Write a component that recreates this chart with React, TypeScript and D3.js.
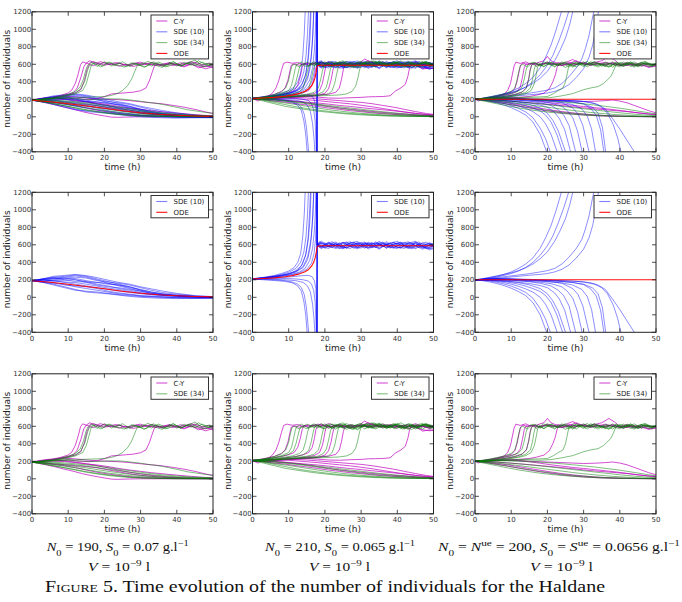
import React from 'react';
import * as d3 from 'd3';

// Axis ticks and legend labels
const TIME_TICKS = [0, 10, 20, 30, 40, 50];
const COUNT_TICKS = [-400, -200, 0, 200, 400, 600, 800, 1000, 1200];
const SERIES_LABELS: Record<string, string> = { cy: 'C-Y', sde10: 'SDE (10)', sde34: 'SDE (34)', ode: 'ODE' };

// Trajectories, each one a flat list [t0, n0, t1, n1, ...] (t in hours, n = number of individuals)

// ---- N0 = 190, S0 = 0.07 ----
const ode190 = [0, 190, 5, 172, 10, 150, 15, 124, 20, 97, 25, 70, 30, 46, 35, 29, 40, 17, 45, 9, 50, 5];

const cy190: number[][] = [
  [0, 190, 2, 208, 4, 220, 6, 228, 8, 246, 10, 272, 11, 305, 12, 385, 12.8, 495, 13.4, 595, 14, 628, 15.5, 605, 17, 632, 18.5, 600, 20, 622, 22, 595, 24, 615, 26, 588, 28, 610, 30, 625, 32, 592, 34, 605, 36, 580, 38, 612, 40, 595, 42, 570, 44, 602, 46, 575, 48, 548, 50, 575],
  [0, 190, 2, 198, 4, 212, 6, 225, 8, 238, 10, 255, 11.5, 280, 12.5, 330, 13.5, 450, 14.3, 570, 15, 615, 16, 640, 17.5, 612, 19, 630, 21, 598, 23, 620, 25, 602, 27, 585, 29, 612, 31, 598, 33, 620, 35, 595, 37, 605, 39, 585, 41, 618, 43, 600, 45, 625, 47, 596, 49, 610, 50, 598],
  [0, 190, 2, 205, 4, 215, 6, 222, 8, 235, 10, 250, 12, 272, 13.5, 310, 14.5, 420, 15.2, 545, 15.8, 598, 17, 585, 18.5, 610, 20, 590, 22, 605, 24, 580, 26, 600, 28, 575, 30, 598, 32, 610, 34, 585, 36, 600, 38, 620, 40, 590, 42, 605, 44, 630, 46, 595, 48, 572, 50, 590],
  [0, 190, 2, 200, 4, 205, 6, 215, 8, 210, 10, 218, 12, 205, 14, 200, 16, 195, 18, 208, 20, 230, 22, 262, 24, 268, 26, 275, 28, 282, 30, 298, 31.5, 330, 32.5, 420, 33.2, 510, 33.8, 578, 34.5, 605, 36, 588, 38, 612, 40, 595, 42, 580, 44, 605, 46, 560, 48, 585, 50, 560],
  [0, 190, 2, 175, 4, 158, 6, 140, 8, 120, 10, 100, 12, 80, 14, 58, 16, 40, 18, 24, 20, 10, 22, -4, 24, -6, 27, -2, 30, 0, 35, 0, 50, 0],
  [0, 190, 3, 180, 6, 165, 9, 150, 12, 128, 15, 100, 18, 75, 21, 55, 24, 38, 27, 25, 30, 15, 34, 8, 38, 4, 44, 2, 50, 0],
  [0, 190, 3, 200, 6, 212, 9, 205, 12, 190, 15, 172, 18, 150, 21, 125, 24, 98, 27, 75, 30, 55, 34, 35, 38, 20, 42, 10, 46, 5, 50, 2],
  [0, 190, 3, 205, 6, 222, 9, 235, 12, 228, 15, 215, 18, 205, 21, 200, 24, 195, 27, 185, 30, 172, 33, 160, 36, 148, 39, 130, 42, 110, 45, 85, 48, 55, 50, 38],
  [0, 190, 3, 195, 6, 200, 9, 198, 12, 185, 15, 170, 18, 158, 21, 140, 24, 118, 27, 100, 30, 85, 33, 70, 36, 58, 40, 42, 44, 28, 47, 18, 50, 12],
  [0, 190, 3, 182, 6, 170, 9, 162, 12, 150, 15, 140, 18, 125, 21, 102, 24, 80, 27, 58, 30, 40, 33, 28, 36, 18, 40, 10, 45, 5, 50, 2],
];

const sde34_190: number[][] = [
  [0, 190, 2, 200, 4, 212, 6, 222, 8, 238, 10, 258, 12, 290, 13.3, 340, 14.2, 430, 14.9, 540, 15.4, 590, 16.5, 625, 18, 575, 20, 630, 22, 580, 24, 620, 26, 570, 28, 615, 30, 585, 32, 635, 34, 590, 36, 565, 38, 620, 40, 580, 42, 625, 44, 590, 46, 640, 48, 595, 50, 575],
  [0, 190, 2, 196, 4, 208, 6, 215, 8, 228, 10, 248, 12, 275, 13.5, 320, 14.6, 410, 15.3, 525, 15.8, 585, 17, 615, 19, 570, 21, 625, 23, 585, 25, 630, 27, 575, 29, 610, 31, 565, 33, 620, 35, 595, 37, 570, 39, 628, 41, 580, 43, 612, 45, 648, 47, 590, 49, 615, 50, 600],
  [0, 190, 2, 194, 4, 205, 6, 212, 8, 222, 10, 240, 12, 262, 14, 300, 15, 380, 15.8, 500, 16.3, 580, 17.5, 622, 19.5, 578, 21.5, 625, 23.5, 590, 25.5, 568, 27.5, 618, 29.5, 590, 31.5, 572, 33.5, 628, 35.5, 600, 37.5, 575, 39.5, 615, 41.5, 585, 43.5, 625, 45.5, 595, 47.5, 570, 50, 605],
  [0, 190, 2, 198, 4, 205, 6, 210, 8, 215, 10, 220, 12, 218, 14, 222, 16, 225, 18, 228, 20, 232, 22, 245, 23.5, 265, 25, 300, 26.5, 360, 27.5, 430, 28.3, 510, 28.9, 570, 29.5, 600, 31, 618, 33, 580, 35, 625, 37, 588, 39, 632, 41, 578, 43, 615, 45, 585, 47, 625, 49, 590, 50, 600],
  [0, 190, 3, 172, 6, 150, 9, 128, 12, 105, 15, 82, 18, 62, 21, 45, 24, 32, 27, 20, 30, 12, 34, 6, 38, 3, 44, 1, 50, 0],
  [0, 190, 3, 178, 6, 162, 9, 145, 12, 125, 15, 105, 18, 85, 21, 66, 24, 50, 27, 36, 30, 25, 34, 15, 38, 8, 44, 4, 50, 2],
  [0, 190, 3, 184, 6, 172, 9, 158, 12, 142, 15, 125, 18, 105, 21, 86, 24, 68, 27, 52, 30, 38, 34, 25, 38, 15, 42, 9, 46, 5, 50, 3],
  [0, 190, 3, 188, 6, 180, 9, 170, 12, 160, 15, 145, 18, 128, 21, 110, 24, 92, 27, 75, 30, 60, 33, 46, 36, 34, 40, 22, 44, 14, 50, 7],
  [0, 190, 3, 198, 6, 205, 9, 210, 12, 205, 15, 200, 18, 198, 21, 205, 24, 205, 26, 198, 28, 188, 30, 178, 32, 165, 34, 155, 36, 142, 38, 125, 40, 108, 43, 80, 46, 62, 48, 50, 50, 40],
  [0, 190, 3, 170, 6, 148, 9, 125, 12, 100, 15, 75, 18, 55, 21, 38, 24, 25, 27, 15, 30, 9, 35, 4, 40, 1, 50, 0],
  [0, 190, 3, 192, 6, 190, 9, 182, 12, 172, 15, 160, 18, 145, 21, 128, 24, 110, 27, 92, 30, 75, 33, 60, 36, 46, 40, 32, 44, 20, 50, 10],
];

const sde10_190: number[][] = [
  [0, 190, 3, 210, 6, 230, 9, 240, 12, 255, 15, 240, 18, 210, 21, 180, 24, 150, 27, 120, 30, 90, 33, 60, 36, 40, 40, 25, 45, 10, 50, 0],
  [0, 190, 3, 200, 6, 220, 9, 230, 12, 245, 15, 230, 18, 200, 21, 160, 24, 130, 27, 100, 30, 70, 33, 45, 36, 30, 40, 15, 45, 5, 50, -5],
  [0, 190, 3, 180, 6, 200, 9, 210, 12, 215, 15, 190, 18, 170, 21, 150, 24, 140, 27, 120, 30, 80, 33, 50, 36, 30, 40, 20, 45, 10, 50, 5],
  [0, 190, 3, 170, 6, 160, 9, 150, 12, 120, 15, 100, 18, 80, 21, 60, 24, 40, 27, 30, 30, 15, 35, 5, 40, -5, 45, -10, 50, -5],
  [0, 190, 3, 175, 6, 150, 9, 120, 12, 90, 15, 60, 18, 50, 21, 40, 24, 25, 27, 10, 30, 0, 35, -10, 40, -15, 45, -10, 50, -10],
  [0, 190, 3, 200, 6, 190, 9, 170, 12, 150, 15, 130, 18, 110, 21, 90, 24, 70, 27, 55, 30, 40, 35, 25, 40, 12, 45, 5, 50, 0],
  [0, 190, 3, 210, 6, 225, 9, 200, 12, 180, 15, 175, 18, 170, 21, 160, 24, 140, 27, 110, 30, 85, 33, 60, 36, 40, 40, 20, 45, 8, 50, 0],
  [0, 190, 3, 185, 6, 190, 9, 195, 12, 200, 15, 180, 18, 150, 21, 130, 24, 100, 27, 80, 30, 55, 33, 35, 37, 20, 42, 10, 47, 3, 50, 0],
  [0, 190, 3, 180, 6, 170, 9, 140, 12, 130, 15, 120, 18, 100, 21, 70, 24, 50, 27, 35, 30, 20, 35, 10, 40, 0, 45, -5, 50, -5],
  [0, 190, 3, 195, 6, 210, 9, 220, 12, 230, 15, 220, 18, 190, 21, 175, 24, 160, 27, 140, 30, 110, 33, 80, 36, 55, 40, 35, 45, 15, 50, 5],
  [0, 190, 3, 170, 6, 140, 9, 110, 12, 80, 15, 70, 18, 60, 21, 45, 24, 30, 27, 20, 30, 10, 35, 0, 40, -5, 45, -8, 50, -10],
  [0, 190, 3, 205, 6, 215, 9, 220, 12, 200, 15, 170, 18, 140, 21, 120, 24, 110, 27, 90, 30, 70, 33, 45, 37, 30, 42, 15, 47, 5, 50, 0],
  [0, 190, 3, 198, 6, 185, 9, 175, 12, 168, 15, 150, 18, 128, 21, 105, 24, 88, 27, 66, 30, 48, 33, 32, 37, 18, 42, 6, 47, 0, 50, -3],
  [0, 190, 3, 212, 6, 240, 9, 250, 12, 262, 15, 248, 18, 225, 21, 196, 24, 170, 27, 150, 30, 120, 33, 96, 36, 72, 40, 45, 45, 20, 50, 8],
];

// ---- N0 = 210, S0 = 0.065 ----
const ode210 = [0, 210, 3, 215, 6, 222, 9, 235, 11, 248, 13, 268, 14.5, 292, 15.5, 318, 16.3, 355, 16.9, 400, 17.3, 450, 17.6, 510, 17.8, 565, 18, 585, 19, 590, 50, 590];

const cy210: number[][] = [
  [0, 210, 1.5, 180, 3, 215, 4.5, 240, 5.5, 270, 6.5, 330, 7.3, 420, 8, 530, 8.6, 610, 9.5, 625, 11, 612, 12.5, 620, 14, 598, 15.5, 615, 17, 600, 19, 625, 21, 590, 23, 610, 25, 600, 27, 580, 29, 612, 31, 600, 33, 630, 35, 605, 37, 590, 39, 615, 41, 598, 43, 620, 45, 585, 47, 560, 49, 548, 50, 565],
  [0, 210, 2, 222, 4, 238, 6, 255, 8, 290, 9, 330, 9.8, 420, 10.3, 520, 10.7, 590, 11.5, 605, 13, 590, 14.5, 612, 16, 598, 18, 625, 20, 605, 22, 590, 24, 620, 26, 600, 28, 585, 30, 610, 32, 640, 34, 605, 36, 590, 38, 612, 40, 600, 42, 580, 44, 605, 46, 590, 48, 620, 50, 600],
  [0, 210, 2, 215, 4, 228, 6, 240, 8, 255, 10, 275, 11.5, 300, 12.5, 360, 13.2, 460, 13.7, 560, 14.2, 605, 15.5, 590, 17, 615, 19, 598, 21, 630, 23, 605, 25, 592, 27, 618, 29, 600, 31, 660, 33, 615, 35, 598, 37, 605, 39, 588, 41, 612, 43, 598, 45, 630, 47, 600, 49, 575, 50, 590],
  [0, 210, 3, 215, 6, 222, 9, 240, 12, 255, 14, 275, 15.5, 300, 16.5, 360, 17.1, 460, 17.5, 560, 18, 598, 19.5, 610, 21, 592, 23, 612, 25, 600, 27, 580, 29, 608, 31, 595, 33, 620, 35, 600, 37, 585, 39, 610, 41, 598, 43, 575, 45, 600, 47, 545, 49, 560, 50, 548],
  [0, 210, 3, 205, 6, 215, 9, 225, 12, 235, 15, 250, 17, 265, 18.5, 300, 19.3, 380, 19.8, 480, 20.2, 570, 20.7, 605, 22, 595, 24, 615, 26, 600, 28, 590, 30, 620, 32, 602, 34, 595, 36, 625, 38, 600, 40, 580, 42, 608, 44, 595, 46, 610, 48, 585, 50, 600],
  [0, 210, 3, 198, 6, 208, 9, 215, 12, 225, 15, 232, 18, 245, 20, 270, 21, 320, 21.7, 420, 22.2, 530, 22.6, 590, 23.5, 602, 25, 590, 27, 612, 29, 598, 31, 605, 33, 590, 35, 615, 37, 600, 39, 592, 41, 606, 43, 598, 45, 612, 47, 600, 49, 585, 50, 595],
  [0, 210, 3, 212, 6, 220, 9, 226, 12, 232, 15, 240, 18, 248, 21, 258, 23, 280, 24, 330, 24.6, 430, 25.1, 540, 25.5, 595, 26.5, 612, 28, 598, 30, 610, 32, 590, 34, 605, 36, 598, 38, 620, 40, 600, 42, 590, 44, 612, 46, 598, 48, 605, 50, 590],
  [0, 210, 3, 205, 6, 212, 9, 220, 12, 228, 15, 232, 18, 225, 21, 215, 24, 212, 27, 218, 30, 222, 32, 228, 34, 230, 36, 232, 38, 240, 39.5, 295, 41, 330, 42.2, 370, 42.9, 460, 43.4, 560, 43.8, 600, 45, 585, 46.5, 610, 48, 590, 50, 605],
  [0, 210, 3, 200, 6, 195, 9, 188, 12, 178, 15, 168, 18, 158, 21, 145, 24, 130, 27, 118, 30, 105, 33, 92, 36, 80, 39, 68, 42, 55, 45, 40, 48, 28, 50, 22],
  [0, 210, 3, 215, 6, 218, 9, 222, 12, 220, 15, 215, 18, 205, 21, 195, 24, 185, 27, 175, 30, 165, 33, 150, 36, 130, 39, 110, 42, 85, 45, 60, 48, 38, 50, 28],
  [0, 210, 3, 205, 6, 198, 9, 190, 12, 175, 15, 158, 18, 140, 21, 120, 24, 102, 27, 88, 30, 75, 33, 62, 36, 50, 39, 40, 42, 32, 45, 22, 48, 15, 50, 12],
  [0, 210, 3, 208, 6, 212, 9, 215, 12, 205, 15, 195, 18, 185, 21, 172, 24, 160, 27, 148, 30, 132, 33, 115, 36, 95, 39, 75, 42, 55, 45, 38, 48, 25, 50, 20],
  [0, 210, 3, 195, 6, 180, 9, 168, 12, 150, 15, 135, 18, 118, 21, 100, 24, 85, 27, 70, 30, 58, 33, 45, 36, 35, 40, 25, 45, 15, 50, 8],
];

const sde34_210: number[][] = [
  [0, 210, 2, 220, 4, 235, 6, 255, 8, 285, 9.2, 330, 10, 420, 10.5, 520, 10.9, 585, 11.5, 600, 13, 570, 15, 625, 17, 585, 19, 630, 21, 575, 23, 612, 25, 640, 27, 585, 29, 620, 31, 570, 33, 608, 35, 635, 37, 580, 39, 615, 41, 575, 43, 630, 45, 588, 47, 620, 49, 570, 50, 590],
  [0, 210, 2, 218, 4, 230, 6, 245, 8, 265, 10, 300, 10.8, 360, 11.3, 450, 11.8, 550, 12.2, 598, 13.5, 625, 15.5, 578, 17.5, 615, 19.5, 570, 21.5, 630, 23.5, 582, 25.5, 612, 27.5, 565, 29.5, 625, 31.5, 590, 33.5, 640, 35.5, 585, 37.5, 618, 39.5, 572, 41.5, 610, 43.5, 628, 45.5, 580, 47.5, 622, 50, 585],
  [0, 210, 2, 214, 4, 226, 6, 240, 8, 256, 10, 280, 11.3, 320, 12, 400, 12.6, 500, 13, 570, 13.5, 600, 15, 572, 17, 628, 19, 588, 21, 615, 23, 568, 25, 625, 27, 595, 29, 560, 31, 618, 33, 585, 35, 632, 37, 575, 39, 605, 41, 640, 43, 590, 45, 612, 47, 568, 49, 620, 50, 600],
  [0, 210, 3, 220, 6, 232, 9, 248, 11, 262, 13, 290, 14, 330, 14.7, 430, 15.2, 530, 15.6, 590, 16.5, 622, 18, 580, 20, 628, 22, 575, 24, 615, 26, 565, 28, 608, 30, 635, 32, 580, 34, 612, 36, 628, 38, 578, 40, 618, 42, 570, 44, 625, 46, 595, 48, 630, 50, 585],
  [0, 210, 3, 216, 6, 226, 9, 238, 12, 255, 14, 275, 15.5, 320, 16.2, 420, 16.7, 520, 17.1, 585, 18, 615, 20, 572, 22, 625, 24, 590, 26, 632, 28, 578, 30, 610, 32, 628, 34, 570, 36, 612, 38, 585, 40, 630, 42, 592, 44, 565, 46, 610, 48, 628, 50, 590],
  [0, 210, 3, 212, 6, 220, 9, 232, 12, 245, 15, 258, 17, 280, 18.2, 330, 18.8, 420, 19.3, 520, 19.7, 585, 20.5, 620, 22, 575, 24, 628, 26, 590, 28, 565, 30, 615, 32, 588, 34, 632, 36, 578, 38, 610, 40, 625, 42, 580, 44, 612, 46, 570, 48, 618, 50, 596],
  [0, 210, 3, 208, 6, 215, 9, 225, 12, 236, 15, 246, 18, 258, 19.5, 285, 20.4, 340, 21, 440, 21.5, 540, 21.9, 592, 23, 625, 25, 580, 27, 618, 29, 570, 31, 612, 33, 640, 35, 585, 37, 622, 39, 578, 41, 606, 43, 565, 45, 615, 47, 632, 49, 590, 50, 605],
  [0, 210, 3, 205, 6, 212, 9, 222, 12, 230, 15, 238, 18, 245, 21, 262, 22, 300, 22.7, 380, 23.2, 480, 23.7, 570, 24.2, 600, 25.5, 572, 27.5, 622, 29.5, 585, 31.5, 630, 33.5, 575, 35.5, 612, 37.5, 590, 39.5, 628, 41.5, 568, 43.5, 612, 45.5, 585, 47.5, 625, 50, 578],
  [0, 210, 3, 212, 6, 218, 9, 226, 12, 232, 15, 236, 18, 240, 21, 244, 24, 250, 26, 262, 27.5, 290, 28.5, 350, 29.1, 440, 29.6, 540, 30, 590, 31, 615, 33, 575, 35, 622, 37, 590, 39, 632, 41, 580, 43, 610, 45, 570, 47, 622, 49, 588, 50, 600],
  [0, 210, 3, 180, 6, 150, 9, 120, 12, 100, 15, 82, 18, 65, 21, 52, 24, 40, 27, 30, 30, 22, 34, 14, 38, 8, 44, 4, 50, 2],
  [0, 210, 3, 195, 6, 175, 9, 158, 12, 140, 15, 120, 18, 100, 21, 82, 24, 66, 27, 52, 30, 40, 34, 28, 38, 18, 42, 12, 46, 7, 50, 4],
  [0, 210, 3, 200, 6, 190, 9, 178, 12, 165, 15, 150, 18, 132, 21, 115, 24, 98, 27, 82, 30, 66, 34, 48, 38, 34, 42, 22, 46, 14, 50, 9],
  [0, 210, 3, 190, 6, 165, 9, 140, 12, 115, 15, 95, 18, 78, 21, 62, 24, 48, 27, 38, 30, 30, 34, 20, 38, 12, 44, 6, 50, 3],
  [0, 210, 3, 205, 6, 198, 9, 185, 12, 172, 15, 160, 18, 145, 21, 130, 24, 115, 27, 100, 30, 86, 33, 72, 36, 58, 40, 42, 44, 28, 48, 16, 50, 12],
];

// These runs blow up near t = 17.8 h and are then restarted on the upper branch
const sde10_210: number[][] = [
  [0, 210, 2, 220, 4, 235, 6, 250, 8, 272, 10, 300, 11.5, 340, 12.5, 400, 13.3, 500, 13.9, 700, 14.3, 950, 14.6, 1250, 15, 1800, 17.75, 4000, 17.85, 600, 19, 565, 21, 622, 23, 588, 25, 630, 27, 575, 29, 615, 31, 560, 33, 620, 35, 586, 37, 635, 39, 590, 41, 565, 43, 622, 45, 588, 47, 550, 49, 600, 50, 570],
  [0, 210, 2, 215, 4, 230, 6, 242, 8, 262, 10, 285, 12, 330, 13.3, 400, 14.2, 520, 14.8, 700, 15.2, 950, 15.5, 1250, 16, 1800, 17.75, 4000, 17.85, 590, 19, 625, 21, 580, 23, 560, 25, 615, 27, 635, 29, 578, 31, 620, 33, 568, 35, 610, 37, 570, 39, 625, 41, 595, 43, 570, 45, 630, 47, 580, 49, 622, 50, 598],
  [0, 210, 2, 225, 4, 228, 6, 238, 8, 252, 10, 270, 12, 305, 13.5, 360, 14.6, 470, 15.4, 650, 15.9, 900, 16.2, 1250, 16.6, 1800, 17.75, 4000, 17.85, 605, 18.5, 570, 20, 608, 22, 635, 24, 580, 26, 565, 28, 622, 30, 586, 32, 630, 34, 570, 36, 615, 38, 562, 40, 610, 42, 628, 44, 575, 46, 615, 48, 565, 50, 550],
  [0, 210, 2, 212, 4, 222, 6, 232, 8, 245, 10, 262, 12, 290, 14, 340, 15.2, 430, 16, 580, 16.5, 820, 16.8, 1100, 17.1, 1500, 17.75, 4000, 17.85, 585, 18.5, 620, 20, 570, 22, 616, 24, 560, 26, 608, 28, 630, 30, 580, 32, 565, 34, 622, 36, 578, 38, 615, 40, 640, 42, 588, 44, 565, 46, 610, 48, 630, 50, 590],
  [0, 210, 2, 218, 4, 226, 6, 236, 8, 250, 10, 268, 12, 295, 14, 352, 15.3, 470, 16.2, 680, 16.7, 950, 17, 1250, 17.3, 1800, 17.75, 4000, 17.85, 610, 19, 642, 21, 580, 23, 618, 25, 575, 27, 558, 29, 610, 31, 632, 33, 578, 35, 565, 37, 620, 39, 570, 41, 610, 43, 635, 45, 590, 47, 570, 49, 555, 50, 585],
  [0, 210, 3, 220, 6, 232, 9, 248, 11, 262, 13, 290, 14.5, 330, 15.8, 420, 16.6, 560, 17.1, 760, 17.4, 1000, 17.6, 1300, 17.75, 4000, 17.85, 575, 18.5, 610, 20, 622, 22, 568, 24, 615, 26, 632, 28, 575, 30, 563, 32, 615, 34, 578, 36, 625, 38, 570, 40, 558, 42, 615, 44, 622, 46, 565, 48, 608, 50, 590],
  [0, 210, 3, 216, 6, 228, 9, 244, 11, 258, 13, 280, 15, 320, 16.3, 390, 17, 500, 17.4, 660, 17.6, 850, 17.75, 4000, 17.85, 598, 19, 555, 21, 608, 23, 632, 25, 580, 27, 620, 29, 565, 31, 610, 33, 625, 35, 558, 37, 608, 39, 630, 41, 570, 43, 610, 45, 565, 47, 622, 49, 580, 50, 610],
  [0, 210, 3, 222, 6, 240, 9, 260, 11, 280, 12.5, 310, 13.8, 380, 14.8, 500, 15.4, 700, 15.8, 1000, 16.1, 1300, 16.5, 1800, 17.75, 4000, 17.85, 620, 19, 580, 21, 558, 23, 610, 25, 568, 27, 622, 29, 638, 31, 578, 33, 565, 35, 615, 37, 560, 39, 608, 41, 625, 43, 560, 45, 615, 47, 575, 49, 540, 50, 570],
  [0, 210, 3, 205, 6, 200, 9, 190, 11, 175, 12.5, 150, 13.5, 110, 14.3, 30, 14.9, -120, 15.3, -300, 15.6, -450, 16, -700, 17.75, -4000, 17.85, 600, 18.5, 635, 20, 585, 22, 575, 24, 622, 26, 560, 28, 610, 30, 625, 32, 572, 34, 635, 36, 580, 38, 622, 40, 570, 42, 560, 44, 616, 46, 632, 48, 578, 50, 622],
  [0, 210, 3, 208, 6, 205, 9, 200, 12, 190, 14, 170, 15.2, 130, 16, 60, 16.6, -80, 17, -250, 17.3, -450, 17.75, -4000, 17.85, 590, 19, 578, 21, 630, 23, 565, 25, 555, 27, 610, 29, 572, 31, 622, 33, 580, 35, 640, 37, 585, 39, 565, 41, 608, 43, 580, 45, 555, 47, 600, 49, 620, 50, 595],
  [0, 210, 3, 215, 6, 218, 9, 215, 12, 210, 14, 200, 15.5, 185, 16.3, 150, 16.9, 80, 17.3, -50, 17.55, -300, 17.7, -600, 17.75, -4000, 17.85, 612, 19, 570, 21, 615, 23, 572, 25, 625, 27, 582, 29, 555, 31, 600, 33, 615, 35, 622, 37, 565, 39, 610, 41, 630, 43, 575, 45, 620, 47, 560, 49, 605, 50, 600],
  [0, 210, 3, 212, 6, 220, 9, 228, 12, 240, 14, 248, 15.5, 250, 16.5, 235, 17.1, 190, 17.5, 100, 17.7, -100, 17.75, -4000, 17.85, 580, 18.5, 605, 20, 560, 22, 610, 24, 570, 26, 618, 28, 560, 30, 615, 32, 552, 34, 608, 36, 630, 38, 580, 40, 618, 42, 570, 44, 555, 46, 610, 48, 560, 50, 588],
  [0, 210, 3, 200, 6, 192, 9, 182, 11, 165, 12.5, 130, 13.5, 70, 14.2, -50, 14.7, -200, 15.1, -400, 15.5, -700, 17.75, -4000, 17.85, 602, 19, 628, 21, 576, 23, 614, 25, 560, 27, 582, 29, 625, 31, 585, 33, 600, 35, 550, 37, 610, 39, 575, 41, 565, 43, 618, 45, 640, 47, 585, 49, 568, 50, 596],
];

// ---- N0 = Nue = 200, S0 = Sue = 0.0656 ----
const ode200 = [0, 200, 50, 200];

const cy200: number[][] = [
  [0, 200, 1, 180, 2, 205, 4, 215, 6, 232, 8, 260, 9, 300, 9.8, 380, 10.3, 480, 10.8, 580, 11.3, 625, 12.5, 610, 14, 628, 15.5, 600, 17, 615, 19, 640, 20, 690, 21, 640, 23, 605, 25, 620, 27, 655, 29, 610, 31, 598, 33, 620, 35, 640, 37, 690, 38.5, 650, 40, 600, 42, 585, 44, 610, 46, 590, 48, 570, 50, 585],
  [0, 200, 2, 210, 4, 222, 6, 238, 8, 255, 10, 280, 11, 320, 11.6, 400, 12.1, 500, 12.6, 590, 13.2, 615, 14.5, 598, 16, 612, 18, 590, 20, 620, 22, 600, 24, 585, 26, 610, 28, 640, 30, 605, 32, 590, 34, 615, 36, 600, 38, 620, 40, 590, 42, 605, 44, 580, 46, 600, 48, 565, 50, 580],
  [0, 200, 2, 206, 4, 218, 6, 230, 8, 245, 10, 262, 11.5, 285, 12.5, 340, 13.1, 450, 13.6, 560, 14, 600, 15.5, 610, 17, 590, 19, 612, 21, 598, 23, 620, 25, 602, 27, 590, 29, 615, 31, 600, 33, 625, 35, 595, 37, 610, 39, 600, 41, 580, 43, 605, 45, 590, 47, 612, 49, 595, 50, 600],
  [0, 200, 3, 210, 6, 222, 9, 238, 11, 252, 13, 280, 14.2, 330, 14.8, 430, 15.2, 530, 15.6, 590, 16.5, 612, 18, 596, 20, 618, 22, 600, 24, 585, 26, 612, 28, 600, 30, 625, 32, 598, 34, 606, 36, 588, 38, 612, 40, 600, 42, 620, 44, 595, 46, 580, 48, 605, 50, 592],
  [0, 200, 3, 196, 6, 205, 9, 215, 12, 222, 15, 232, 17, 248, 19, 270, 20.5, 320, 21.5, 400, 22.2, 480, 22.7, 570, 23.2, 605, 24.5, 595, 26, 620, 28, 600, 30, 612, 32, 590, 34, 605, 36, 625, 38, 600, 40, 588, 42, 610, 44, 595, 46, 615, 48, 590, 50, 600],
  [0, 200, 3, 205, 6, 210, 9, 212, 12, 205, 15, 200, 18, 195, 21, 190, 24, 185, 27, 180, 30, 175, 33, 178, 36, 185, 38, 192, 40, 180, 42, 160, 44, 130, 46, 100, 48, 70, 50, 45],
  [0, 200, 3, 198, 6, 190, 9, 182, 12, 172, 15, 162, 18, 150, 21, 140, 24, 128, 27, 115, 30, 102, 33, 90, 36, 80, 39, 70, 42, 60, 45, 45, 48, 32, 50, 25],
  [0, 200, 3, 190, 6, 175, 9, 160, 12, 140, 15, 118, 18, 98, 21, 78, 24, 60, 27, 45, 30, 32, 33, 22, 36, 14, 40, 8, 45, 4, 50, 2],
  [0, 200, 3, 208, 6, 215, 9, 218, 12, 210, 15, 195, 18, 178, 21, 160, 24, 145, 27, 130, 30, 118, 33, 105, 36, 92, 39, 78, 42, 62, 45, 46, 48, 32, 50, 25],
  [0, 200, 3, 185, 6, 165, 9, 145, 12, 122, 15, 100, 18, 80, 21, 62, 24, 45, 27, 32, 30, 22, 34, 12, 38, 6, 44, 2, 50, 0],
];

const sde34_200: number[][] = [
  [0, 200, 2, 212, 4, 226, 6, 242, 8, 262, 10, 290, 11, 330, 11.6, 420, 12.1, 520, 12.5, 585, 13.2, 600, 14.5, 570, 16, 625, 18, 585, 20, 630, 22, 578, 24, 612, 26, 570, 28, 628, 30, 590, 32, 615, 34, 568, 36, 622, 38, 595, 40, 572, 42, 625, 44, 585, 46, 615, 48, 575, 50, 600],
  [0, 200, 2, 208, 4, 218, 6, 232, 8, 248, 10, 268, 12, 295, 13, 340, 13.6, 430, 14.1, 530, 14.5, 590, 15.5, 620, 17, 575, 19, 628, 21, 588, 23, 612, 25, 565, 27, 620, 29, 595, 31, 632, 33, 580, 35, 608, 37, 570, 39, 625, 41, 588, 43, 615, 45, 572, 47, 628, 49, 590, 50, 605],
  [0, 200, 3, 210, 6, 222, 9, 240, 11, 258, 13, 285, 14.2, 330, 14.9, 440, 15.3, 540, 15.7, 592, 16.5, 625, 18, 578, 20, 612, 22, 570, 24, 628, 26, 592, 28, 618, 30, 575, 32, 630, 34, 585, 36, 610, 38, 568, 40, 622, 42, 590, 44, 628, 46, 580, 48, 612, 50, 595],
  [0, 200, 3, 206, 6, 216, 9, 230, 12, 252, 14, 280, 15.3, 330, 15.9, 430, 16.3, 530, 16.7, 590, 17.5, 618, 19, 572, 21, 625, 23, 590, 25, 615, 27, 568, 29, 622, 31, 588, 33, 632, 35, 578, 37, 612, 39, 590, 41, 625, 43, 575, 45, 610, 47, 632, 49, 585, 50, 600],
  [0, 200, 3, 204, 6, 212, 9, 226, 12, 244, 14, 265, 15.5, 300, 16.4, 380, 16.9, 480, 17.3, 570, 17.8, 600, 19, 575, 21, 622, 23, 585, 25, 630, 27, 578, 29, 612, 31, 570, 33, 625, 35, 595, 37, 568, 39, 618, 41, 585, 43, 628, 45, 575, 47, 612, 49, 590, 50, 608],
  [0, 200, 3, 205, 6, 210, 9, 215, 12, 220, 15, 225, 18, 228, 20, 232, 21.5, 260, 23, 300, 24.3, 330, 25, 400, 25.5, 500, 25.9, 580, 26.5, 600, 28, 570, 30, 625, 32, 590, 34, 615, 36, 572, 38, 628, 40, 585, 42, 612, 44, 568, 46, 622, 48, 592, 50, 610],
  [0, 200, 3, 198, 6, 205, 9, 210, 12, 212, 15, 215, 18, 212, 21, 220, 24, 240, 27, 265, 30, 310, 32, 330, 34, 345, 35.5, 380, 36.5, 420, 37.5, 460, 38.2, 520, 38.8, 580, 39.3, 600, 41, 575, 43, 625, 45, 588, 47, 618, 49, 572, 50, 600],
  [0, 200, 3, 185, 6, 165, 9, 145, 12, 125, 15, 105, 18, 85, 21, 68, 24, 52, 27, 40, 30, 30, 34, 18, 38, 10, 44, 4, 50, 1],
  [0, 200, 3, 192, 6, 180, 9, 166, 12, 152, 15, 136, 18, 120, 21, 104, 24, 88, 27, 72, 30, 58, 34, 42, 38, 28, 42, 18, 46, 10, 50, 6],
  [0, 200, 3, 175, 6, 150, 9, 125, 12, 102, 15, 82, 18, 64, 21, 50, 24, 38, 27, 28, 30, 20, 35, 10, 40, 5, 50, 1],
  [0, 200, 3, 196, 6, 190, 9, 182, 12, 172, 15, 160, 18, 148, 21, 134, 24, 120, 27, 106, 30, 92, 33, 78, 36, 64, 40, 46, 44, 30, 48, 18, 50, 14],
  [0, 200, 3, 205, 6, 208, 9, 205, 12, 200, 15, 196, 18, 190, 21, 182, 24, 172, 27, 160, 30, 148, 33, 135, 36, 120, 39, 104, 42, 86, 45, 66, 48, 46, 50, 34],
];

const sde10_200: number[][] = [
  [0, 200, 2, 210, 4, 225, 6, 240, 8, 262, 10, 290, 12, 330, 14, 380, 16, 450, 18, 560, 19.5, 680, 21, 820, 22.3, 980, 23.3, 1120, 24, 1220, 25, 1400],
  [0, 200, 2, 205, 4, 218, 6, 232, 8, 250, 10, 272, 12, 300, 14, 340, 16, 400, 18, 480, 20, 590, 21.5, 700, 23, 850, 24.5, 1020, 25.5, 1150, 26, 1220, 27, 1400],
  [0, 200, 2, 212, 4, 228, 6, 245, 8, 262, 10, 280, 12, 305, 14, 338, 16, 380, 18, 440, 20, 520, 22, 640, 23.5, 760, 25, 900, 26.2, 1060, 27, 1200, 28, 1380],
  [0, 200, 3, 210, 6, 225, 9, 240, 12, 255, 15, 270, 18, 290, 20, 305, 22, 330, 24, 380, 26, 460, 28, 560, 29.5, 660, 30.5, 780, 31.5, 930, 32.3, 1100, 33, 1240],
  [0, 200, 3, 205, 6, 215, 9, 228, 12, 240, 15, 252, 18, 262, 20, 272, 22, 290, 24, 320, 26, 370, 28, 450, 30, 550, 31.5, 680, 32.5, 820, 33.3, 990, 33.9, 1150, 34.5, 1300],
  [0, 200, 2, 190, 4, 176, 6, 158, 8, 134, 10, 104, 12, 66, 14, 20, 16, -60, 18, -200, 19.8, -400, 21, -600],
  [0, 200, 2, 196, 4, 186, 6, 172, 8, 152, 10, 128, 12, 96, 14, 56, 16, -10, 18, -130, 19.5, -250, 20.8, -400, 22, -600],
  [0, 200, 2, 200, 4, 192, 6, 182, 8, 168, 10, 150, 12, 126, 14, 96, 16, 60, 18, 0, 19.5, -80, 21, -200, 22.7, -400, 24, -620],
  [0, 200, 2, 196, 4, 198, 6, 190, 8, 180, 10, 166, 12, 150, 14, 128, 16, 100, 18, 66, 19.5, 20, 21, -60, 22.6, -200, 24.2, -400, 25.5, -620],
  [0, 200, 3, 204, 6, 196, 9, 184, 12, 168, 15, 142, 18, 100, 20, 40, 21.5, -40, 23, -160, 25, -400, 26, -560],
  [0, 200, 3, 194, 6, 190, 9, 182, 12, 172, 15, 158, 18, 134, 20, 110, 22, 50, 23.3, -20, 24.8, -150, 26.4, -400, 27.5, -600],
  [0, 200, 3, 206, 6, 204, 9, 198, 12, 190, 15, 178, 18, 160, 21, 130, 23, 80, 24.5, 20, 26, -100, 27.8, -400, 29, -620],
  [0, 200, 3, 200, 6, 196, 9, 192, 12, 188, 15, 182, 18, 172, 21, 156, 24, 120, 25.5, 70, 27, -10, 28.3, -160, 29.6, -400, 30.5, -600],
  [0, 200, 3, 205, 6, 210, 9, 208, 12, 200, 15, 195, 18, 188, 21, 178, 24, 160, 27, 100, 28.5, 30, 29.8, -100, 31.5, -400, 32.5, -620],
  [0, 200, 3, 195, 6, 198, 9, 200, 12, 196, 15, 190, 18, 184, 21, 175, 24, 165, 27, 140, 29.5, 90, 31, 10, 32.2, -140, 33.3, -400, 34.3, -650],
  [0, 200, 3, 210, 6, 215, 9, 210, 12, 205, 15, 200, 18, 195, 21, 190, 24, 182, 27, 170, 30, 145, 32, 95, 33.5, 15, 34.7, -150, 35.6, -400, 36.5, -650],
  [0, 200, 3, 202, 6, 205, 9, 202, 12, 200, 15, 198, 18, 195, 21, 188, 24, 180, 27, 168, 30, 150, 32.5, 108, 34, 40, 35.2, -120, 36.1, -400, 37, -650],
  [0, 200, 3, 208, 6, 212, 9, 215, 12, 210, 15, 205, 18, 200, 21, 196, 24, 190, 27, 185, 30, 175, 33, 150, 35, 110, 36.6, 40, 38.2, -90, 39.4, -240, 40.3, -400, 41.5, -650],
  [0, 200, 3, 205, 6, 208, 9, 206, 12, 204, 15, 200, 18, 198, 21, 195, 24, 190, 27, 184, 30, 176, 32, 165, 34, 140, 36, 90, 38, -20, 40, -140, 42, -270, 44, -400, 45, -550],
];

type Col = { cy: number[][]; sde10: number[][]; sde34: number[][]; ode: number[] };
const COLUMNS: Col[] = [
  { cy: cy190, sde10: sde10_190, sde34: sde34_190, ode: ode190 },
  { cy: cy210, sde10: sde10_210, sde34: sde34_210, ode: ode210 },
  { cy: cy200, sde10: sde10_200, sde34: sde34_200, ode: ode200 },
];
const ROW_SERIES: string[][] = [
  ['cy', 'sde10', 'sde34', 'ode'],
  ['sde10', 'ode'],
  ['cy', 'sde34'],
];

const STYLE: Record<string, { color: string; opacity: number; width: number }> = {
  cy: { color: '#c000c0', opacity: 0.7, width: 1 },
  sde10: { color: '#0000ff', opacity: 0.5, width: 0.9 },
  sde34: { color: '#008000', opacity: 0.5, width: 1 },
  ode: { color: '#ff0000', opacity: 0.95, width: 1.1 },
};

// Layout
const COL_X = [32, 252.5, 475];
const ROW_Y = [11.8, 192.3, 373.8];
const PW = 181;
const PH = 140;
const AXIS_FONT = 'DejaVu Sans, Bitstream Vera Sans, sans-serif';
const SERIF = 'Liberation Serif, Times New Roman, serif';

const toPairs = (flat: number[]): [number, number][] =>
  d3.range(0, flat.length, 2).map((i) => [flat[i], flat[i + 1]] as [number, number]);

function Panel({ col, row }: { col: number; row: number }) {
  const x0 = COL_X[col];
  const y0 = ROW_Y[row];
  const data = COLUMNS[col];
  const series = ROW_SERIES[row];
  const x = d3.scaleLinear().domain([0, 50]).range([x0, x0 + PW]);
  const y = d3.scaleLinear().domain([-400, 1200]).range([y0 + PH, y0]);
  const line = d3
    .line<[number, number]>()
    .x((d) => x(d[0]))
    .y((d) => y(d[1]));
  const clipId = `clip-${row}-${col}`;

  const legW = 57.5;
  const legX = x0 + PW - 4.5 - legW;
  const legY = y0 + 3.2;
  const legH = 6 + (series.length - 1) * 10.8 + 5.5;

  return (
    <g>
      <defs>
        <clipPath id={clipId}>
          <rect x={x0} y={y0} width={PW} height={PH} />
        </clipPath>
      </defs>
      <g clipPath={`url(#${clipId})`} fill="none" strokeLinejoin="round">
        {series.map((key) => {
          const st = STYLE[key];
          const lines = key === 'ode' ? [data.ode] : ((data as any)[key] as number[][]);
          return (
            <g key={key} stroke={st.color} strokeOpacity={st.opacity} strokeWidth={st.width}>
              {lines.map((tr, i) => (
                <path key={i} d={line(toPairs(tr)) || ''} />
              ))}
            </g>
          );
        })}
      </g>
      <rect x={x0} y={y0} width={PW} height={PH} fill="none" stroke="#222" strokeWidth={1} />
      <g stroke="#222" strokeWidth={0.8}>
        {TIME_TICKS.map((t) => (
          <g key={`xt${t}`}>
            <line x1={x(t)} x2={x(t)} y1={y0 + PH} y2={y0 + PH - 4} />
            <line x1={x(t)} x2={x(t)} y1={y0} y2={y0 + 4} />
          </g>
        ))}
        {COUNT_TICKS.map((v) => (
          <g key={`yt${v}`}>
            <line x1={x0} x2={x0 + 4} y1={y(v)} y2={y(v)} />
            <line x1={x0 + PW} x2={x0 + PW - 4} y1={y(v)} y2={y(v)} />
          </g>
        ))}
      </g>
      <g fontFamily={AXIS_FONT} fontSize={7} fill="#333">
        {TIME_TICKS.map((t) => (
          <text key={`xl${t}`} x={x(t)} y={y0 + PH + 8.4} textAnchor="middle">
            {t}
          </text>
        ))}
        {COUNT_TICKS.map((v) => (
          <text key={`yl${v}`} x={x0 - 0.8} y={y(v) + 2.3} textAnchor="end">
            {v < 0 ? `\u2212${Math.abs(v)}` : v}
          </text>
        ))}
      </g>
      <text x={x0 + PW / 2} y={y0 + PH + 18.5} textAnchor="middle" fontFamily={AXIS_FONT} fontSize={9} fill="#222">
        time (h)
      </text>
      <text
        transform={`translate(${x0 - 25},${y0 + PH / 2 - 3}) rotate(-90)`}
        textAnchor="middle"
        dominantBaseline="central"
        fontFamily={AXIS_FONT}
        fontSize={9}
        fill="#222"
      >
        number of individuals
      </text>
      <rect x={legX} y={legY} width={legW} height={legH} fill="#fff" stroke="#333" strokeWidth={1} />
      {series.map((key, i) => {
        const ly = legY + 6 + i * 10.8;
        const st = STYLE[key];
        return (
          <g key={`lg${key}`}>
            <line x1={legX + 5.3} x2={legX + 16.3} y1={ly} y2={ly} stroke={st.color} strokeOpacity={st.opacity} strokeWidth={1.1} />
            <text x={legX + 22.5} y={ly + 2.5} fontFamily={AXIS_FONT} fontSize={7} fill="#222">
              {SERIES_LABELS[key]}
            </text>
          </g>
        );
      })}
    </g>
  );
}

const sub = (s: string) => (
  <tspan baselineShift="sub" fontSize="72%">
    {s}
  </tspan>
);
const sup = (s: string) => (
  <tspan baselineShift="super" fontSize="72%">
    {s}
  </tspan>
);
const it = (s: string) => <tspan fontStyle="italic">{s}</tspan>;

export default function App() {
  const cols = [0, 1, 2];
  const rows = [0, 1, 2];
  return (
    <svg width={682} height={602} style={{ position: 'absolute', left: 0, top: 0, background: '#fff' }}>
      <rect width={682} height={602} fill="#fff" />
      {rows.map((r) => cols.map((c) => <Panel key={`${r}-${c}`} row={r} col={c} />))}
      <g fontFamily={SERIF} fontSize={12.5} fill="#111">
        <text x={46.7} y={550.5} textLength={142} lengthAdjust="spacingAndGlyphs">
          {it('N')}{sub('0')} = 190, {it('S')}{sub('0')} = 0.07 g.l{sup('\u22121')}
        </text>
        <text x={265} y={550.5} textLength={150} lengthAdjust="spacingAndGlyphs">
          {it('N')}{sub('0')} = 210, {it('S')}{sub('0')} = 0.065 g.l{sup('\u22121')}
        </text>
        <text x={438} y={550.5} textLength={242} lengthAdjust="spacingAndGlyphs">
          {it('N')}{sub('0')} = {it('N')}{sup('ue')} = 200, {it('S')}{sub('0')} = {it('S')}{sup('ue')} = 0.0656 g.l{sup('\u22121')}
        </text>
        <text x={88} y={571} textLength={62} lengthAdjust="spacingAndGlyphs">
          {it('V')} = 10{sup('\u22129')} l
        </text>
        <text x={309} y={571} textLength={61} lengthAdjust="spacingAndGlyphs">
          {it('V')} = 10{sup('\u22129')} l
        </text>
        <text x={530} y={571} textLength={63} lengthAdjust="spacingAndGlyphs">
          {it('V')} = 10{sup('\u22129')} l
        </text>
        <text x={45} y={591.5} fontSize={16} textLength={560} lengthAdjust="spacingAndGlyphs">
          <tspan fontVariant="small-caps">Figure</tspan> 5. Time evolution of the number of individuals for the Haldane
        </text>
      </g>
    </svg>
  );
}
